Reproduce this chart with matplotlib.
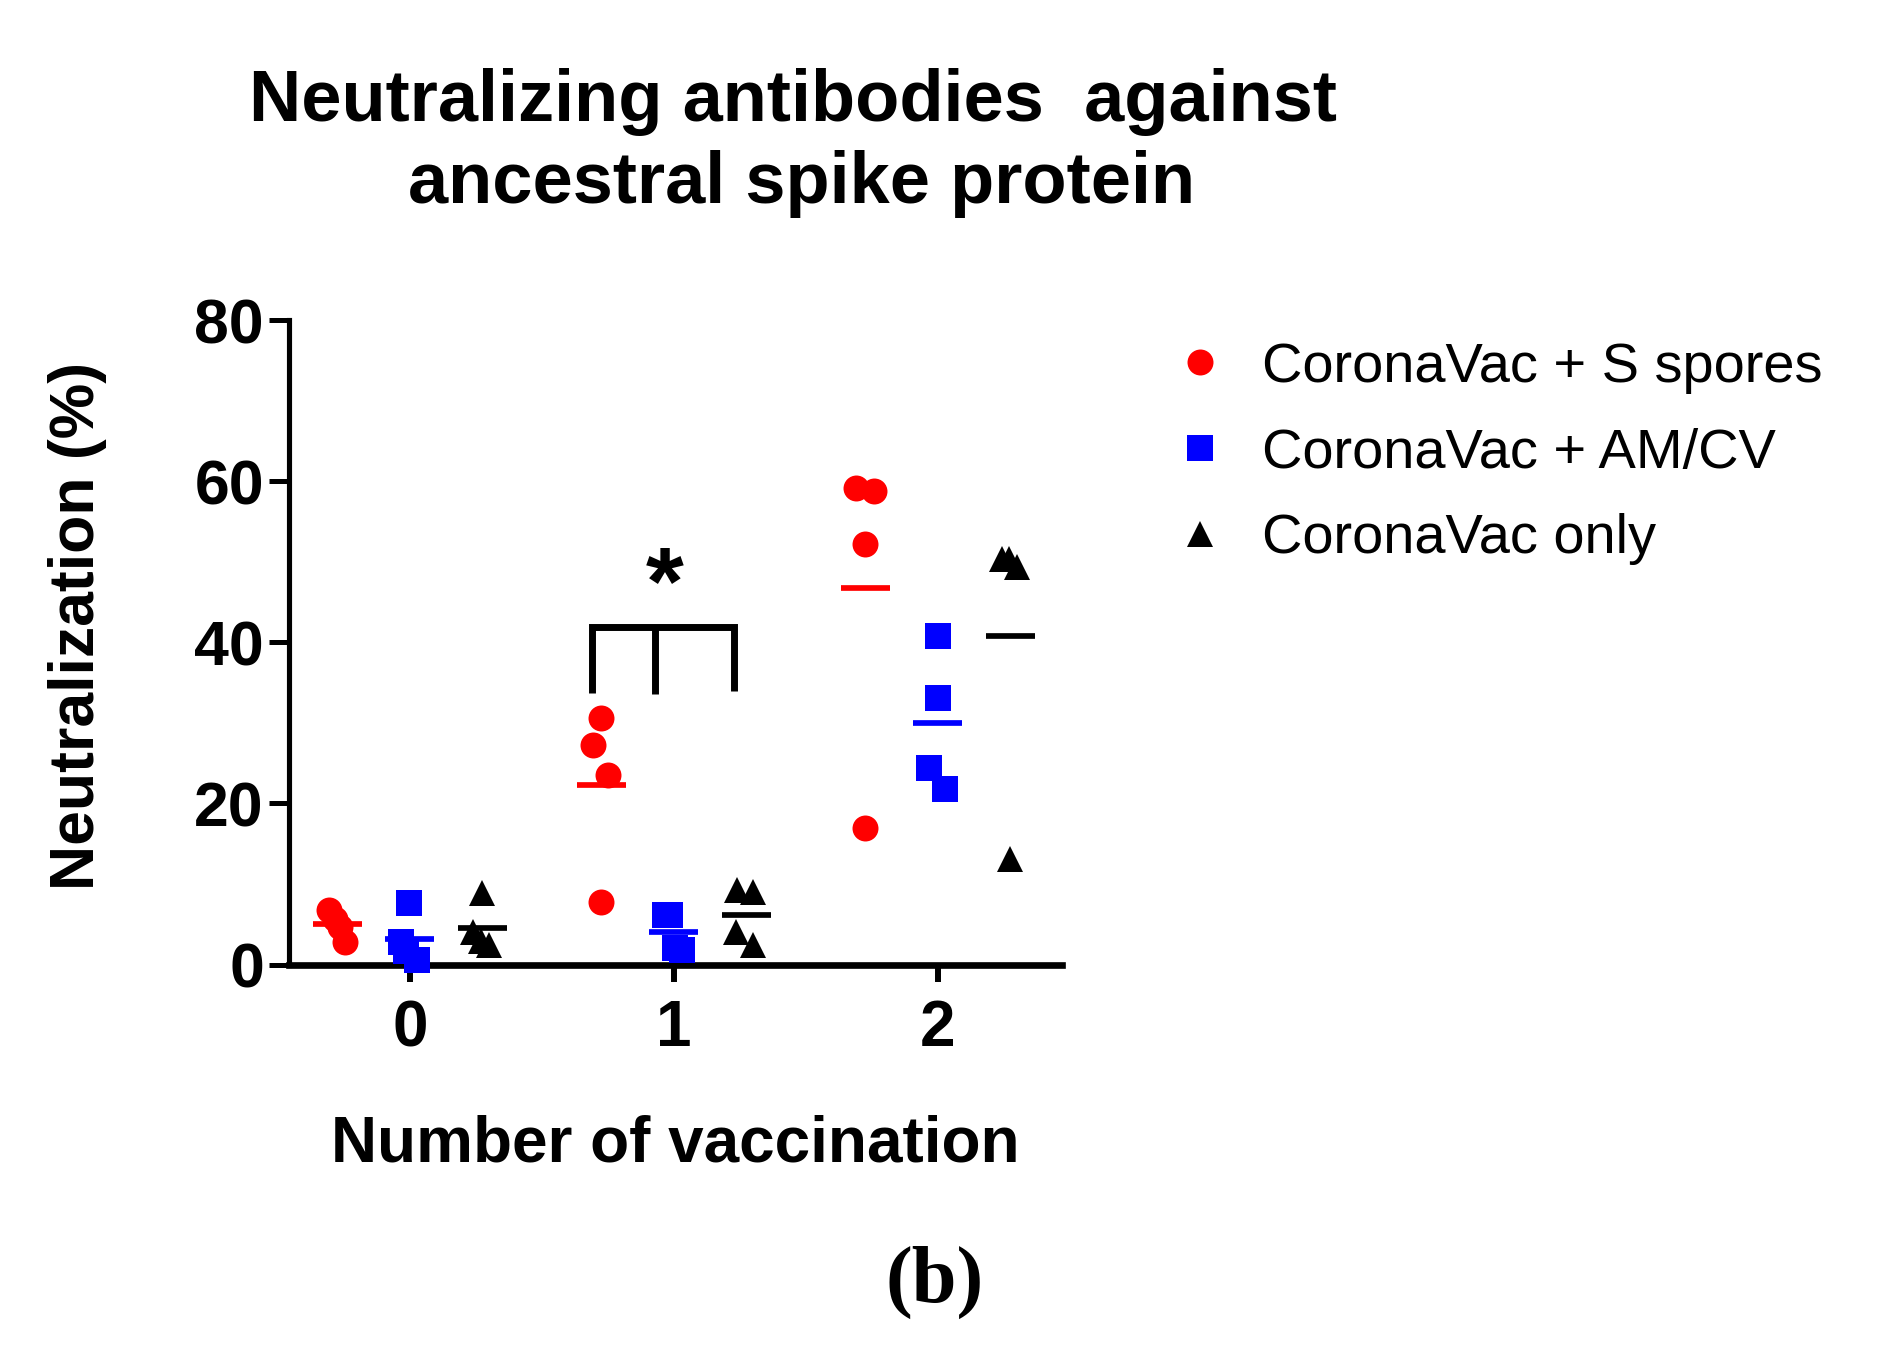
import matplotlib as mpl
mpl.use('Agg')
import matplotlib.pyplot as plt
import numpy as np

# data (percent neutralization, 4 mice per group)
doses = [0, 1, 2]
dose_labels = ['0', '1', '2']
series_names = ['CoronaVac + S spores', 'CoronaVac + AM/CV', 'CoronaVac only']

spores_vals = [[6.8, 5.7, 4.7, 2.8], [30.6, 27.2, 23.5, 7.7], [59.2, 58.8, 52.2, 16.9]]
spores_jit = [[-0.032, -0.010, 0.010, 0.030], [-0.002, -0.033, 0.027, -0.002],
              [-0.034, 0.032, -0.003, -0.003]]

amcv_vals = [[7.6, 2.75, 0.6, 1.7], [6.2, 6.2, 2.05, 1.85], [40.8, 33.1, 24.4, 21.8]]
amcv_jit = [[-0.003, -0.032, 0.028, -0.013], [-0.033, -0.014, 0.005, 0.029],
            [0.0, 0.0, -0.034, 0.027]]

only_vals = [[8.9, 4.0, 2.46, 2.9], [9.3, 8.96, 4.03, 2.46], [50.3, 50.3, 49.3, 13.1]]
only_jit = [[-0.002, -0.035, 0.025, -0.004], [-0.035, 0.025, -0.038, 0.025],
            [-0.033, -0.006, 0.025, -0.002]]

# significance bracket between groups at dose 1
bracket_x = [0.688, 0.928, 1.226]
bracket_top = 41.9
bracket_bottom = [33.7, 33.6, 34.0]
star_x, star_y = 0.966, 46.6

plt.rcParams['font.family'] = ['Liberation Sans', 'DejaVu Sans']

W, H = 1877, 1353
fig = plt.figure(figsize=(W / 100, H / 100), dpi=100)
ax = fig.add_axes([289 / W, 1 - 964.5 / H, (1062 - 289) / W, (964.5 - 320) / H])

styles = [
    (spores_vals, spores_jit, -0.275, 'o', '#ff0000'),
    (amcv_vals, amcv_jit, 0.0, 's', '#0000ff'),
    (only_vals, only_jit, 0.275, '^', '#000000'),
]

half = 0.0928
handles = []
for (vals, jit, off, mk, col), name in zip(styles, series_names):
    for d, v, j in zip(doses, vals, jit):
        xs = d + off + np.array(j)
        ax.hlines(np.mean(v), d + off - half, d + off + half, colors=col,
                  linewidth=4.1, zorder=3)
        ax.plot(xs, v, linestyle='none', marker=mk, markersize=18.7,
                markeredgewidth=0, color=col, clip_on=False, zorder=4)
    h, = ax.plot([], [], linestyle='none', marker=mk, markersize=18.7,
                 markeredgewidth=0, color=col, label=name)
    handles.append(h)

# bracket
ax.plot([bracket_x[0], bracket_x[0], bracket_x[2], bracket_x[2]],
        [bracket_bottom[0], bracket_top, bracket_top, bracket_bottom[2]],
        color='k', linewidth=5, solid_joinstyle='miter', solid_capstyle='butt')
ax.plot([bracket_x[1], bracket_x[1]], [bracket_top, bracket_bottom[1]],
        color='k', linewidth=5, solid_capstyle='butt')
ax.text(star_x, star_y, '*', ha='center', va='center', fontsize=70,
        fontweight='bold')

ax.set_xlim(-0.458, 2.470)
ax.set_ylim(0, 80)
ax.set_xticks(doses)
ax.set_xticklabels(dose_labels)
ax.set_yticks([0, 20, 40, 60, 80])

for s in ['top', 'right']:
    ax.spines[s].set_visible(False)
ax.spines['left'].set_linewidth(3.7)
ax.spines['bottom'].set_linewidth(4.8)
ax.tick_params(axis='y', length=14.4, width=3.6, pad=3.6, labelsize=45)
ax.tick_params(axis='x', length=12.2, width=4.3, pad=13, labelsize=46)
for lab in ax.get_xticklabels() + ax.get_yticklabels():
    lab.set_fontweight('bold')

fig.text(793 / W, 1 - 121 / H, 'Neutralizing antibodies  against', ha='center',
         va='baseline', fontsize=52, fontweight='bold')
fig.text(802 / W, 1 - 203 / H, 'ancestral spike protein', ha='center',
         va='baseline', fontsize=52, fontweight='bold')
fig.text(78 / W, 1 - 626 / H, 'Neutralization (%)', rotation=90, ha='center',
         va='center', fontsize=45, fontweight='bold')
fig.text(675 / W, 1 - 1162 / H, 'Number of vaccination', ha='center',
         va='baseline', fontsize=46, fontweight='bold')
fig.text(935 / W, 1 - 1302 / H, '(b)', ha='center', va='baseline', fontsize=58,
         fontweight='bold', family=['Liberation Serif', 'DejaVu Serif'])

leg = ax.legend(handles=handles, loc='upper left', frameon=False, fontsize=40.3,
                bbox_to_anchor=(1172 / W, 1 - 342 / H),
                bbox_transform=fig.transFigure, borderpad=0, borderaxespad=0,
                handlelength=1.0, handletextpad=0.6, labelspacing=0.6)

fig.savefig('out.png', dpi=100)
